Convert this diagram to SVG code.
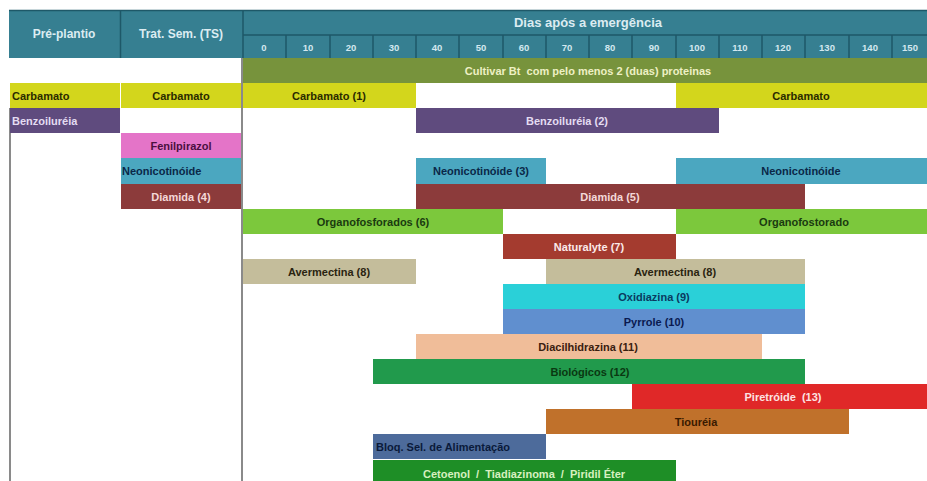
<svg xmlns="http://www.w3.org/2000/svg" width="927" height="481" viewBox="0 0 927 481">
<style>
text{font-family:"Liberation Sans",Arial,sans-serif;font-weight:bold;font-size:11px;text-anchor:middle;white-space:pre}
.hd{fill:#dcecf1;font-size:12px}
.dn{fill:#d4e8ef;font-size:9.5px}
.l{text-anchor:start}
.hl{stroke:#1e5868;stroke-width:1.5;fill:none}
.vl{stroke:#8a8a8a;stroke-width:2;fill:none}
</style>
<rect x="0" y="0" width="927" height="481" fill="#ffffff"/>
<g id="header">
<rect x="9" y="10" width="918" height="48" fill="#367f91"/>
<path class="hl" d="M9 10.5H927M120.5 10V58M243 10V58M243 35H927M286 35V58M330 35V58M373 35V58M416 35V58M459 35V58M503 35V58M546 35V58M589 35V58M632 35V58M676 35V58M719 35V58M762 35V58M805 35V58M849 35V58M892 35V58"/>
<text class="hd" x="64" y="38">Pré-plantio</text>
<text class="hd" x="181" y="38">Trat. Sem. (TS)</text>
<text class="hd" x="588" y="27" style="font-size:13px">Dias após a emergência</text>
<text class="dn" x="264" y="51">0</text>
<text class="dn" x="308" y="51">10</text>
<text class="dn" x="351" y="51">20</text>
<text class="dn" x="394" y="51">30</text>
<text class="dn" x="437" y="51">40</text>
<text class="dn" x="481" y="51">50</text>
<text class="dn" x="524" y="51">60</text>
<text class="dn" x="567" y="51">70</text>
<text class="dn" x="610" y="51">80</text>
<text class="dn" x="654" y="51">90</text>
<text class="dn" x="697" y="51">100</text>
<text class="dn" x="740" y="51">110</text>
<text class="dn" x="783" y="51">120</text>
<text class="dn" x="827" y="51">130</text>
<text class="dn" x="870" y="51">140</text>
<text class="dn" x="910" y="51">150</text>
</g>
<g id="connectors">
<path class="vl" d="M10 108V481M242 58V481"/>
</g>
<g id="cultivar"><rect x="243" y="58" width="684" height="25" fill="#77933c"/><text x="588" y="75" fill="#eef0c4">Cultivar Bt  com pelo menos 2 (duas) proteinas</text></g>
<g id="pre-carbamato"><rect x="10" y="83" width="110" height="25" fill="#d3d61c"/><text class="l" x="12" y="100" fill="#2a2a00">Carbamato</text></g>
<g id="ts-carbamato"><rect x="121" y="83" width="120" height="25" fill="#d3d61c"/><text x="181" y="100" fill="#2a2a00">Carbamato</text></g>
<g id="carbamato-1"><rect x="243" y="83" width="173" height="25" fill="#d3d61c"/><text x="329" y="100" fill="#2a2a00">Carbamato (1)</text></g>
<g id="carbamato-late"><rect x="676" y="83" width="251" height="25" fill="#d3d61c"/><text x="801" y="100" fill="#2a2a00">Carbamato</text></g>
<g id="pre-benzoilureia"><rect x="10" y="108" width="110" height="25" fill="#5f4b7e"/><text class="l" x="12" y="125" fill="#e4dcf2">Benzoiluréia</text></g>
<g id="benzoilureia-2"><rect x="416" y="108" width="303" height="25" fill="#5f4b7e"/><text x="567" y="125" fill="#e4dcf2">Benzoiluréia (2)</text></g>
<g id="ts-fenilpirazol"><rect x="121" y="133" width="120" height="25" fill="#e474c8"/><text x="181" y="150" fill="#4a1040">Fenilpirazol</text></g>
<g id="ts-neonicotinoide"><rect x="121" y="158" width="120" height="26" fill="#4ba7c0"/><text class="l" x="122" y="175" fill="#0a2848">Neonicotinóide</text></g>
<g id="neonicotinoide-3"><rect x="416" y="158" width="130" height="26" fill="#4ba7c0"/><text x="481" y="175" fill="#0a2848">Neonicotinóide (3)</text></g>
<g id="neonicotinoide-late"><rect x="676" y="158" width="251" height="26" fill="#4ba7c0"/><text x="801" y="175" fill="#0a2848">Neonicotinóide</text></g>
<g id="ts-diamida-4"><rect x="121" y="184" width="120" height="25" fill="#8c3b3b"/><text x="181" y="201" fill="#f4d8d8">Diamida (4)</text></g>
<g id="diamida-5"><rect x="416" y="184" width="389" height="25" fill="#8c3b3b"/><text x="610" y="201" fill="#f4d8d8">Diamida (5)</text></g>
<g id="organofosforados-6"><rect x="243" y="209" width="260" height="25" fill="#7cc83c"/><text x="373" y="226" fill="#1a3a10">Organofosforados (6)</text></g>
<g id="organofostorado"><rect x="676" y="209" width="251" height="25" fill="#7cc83c"/><text x="804" y="226" fill="#1a3a10">Organofostorado</text></g>
<g id="naturalyte-7"><rect x="503" y="234" width="173" height="25" fill="#a43b2f"/><text x="589" y="251" fill="#fbeaea">Naturalyte (7)</text></g>
<g id="avermectina-8a"><rect x="243" y="259" width="173" height="25" fill="#c4bd9b"/><text x="329" y="276" fill="#2a2410">Avermectina (8)</text></g>
<g id="avermectina-8b"><rect x="546" y="259" width="259" height="25" fill="#c4bd9b"/><text x="675" y="276" fill="#2a2410">Avermectina (8)</text></g>
<g id="oxidiazina-9"><rect x="503" y="284" width="302" height="25" fill="#2ad0d8"/><text x="654" y="301" fill="#0a3a60">Oxidiazina (9)</text></g>
<g id="pyrrole-10"><rect x="503" y="309" width="302" height="25" fill="#608fcf"/><text x="654" y="326" fill="#0a1a50">Pyrrole (10)</text></g>
<g id="diacilhidrazina-11"><rect x="416" y="334" width="346" height="25" fill="#f0bd99"/><text x="588" y="351" fill="#3a2010">Diacilhidrazina (11)</text></g>
<g id="biologicos-12"><rect x="373" y="359" width="432" height="25" fill="#219a4c"/><text x="590" y="376" fill="#0a3812">Biológicos (12)</text></g>
<g id="piretroide-13"><rect x="632" y="384" width="295" height="25" fill="#e02828"/><text x="783" y="401" fill="#fde2e2">Piretróide  (13)</text></g>
<g id="tioureia"><rect x="546" y="409" width="303" height="25" fill="#c0712b"/><text x="696" y="426" fill="#3a1a00">Tiouréia</text></g>
<g id="bloq"><rect x="373" y="434" width="173" height="25" fill="#4d6b9b"/><text class="l" x="376" y="451" fill="#0a1a3a">Bloq. Sel. de Alimentação</text></g>
<g id="cetoenol"><rect x="373" y="460" width="303" height="21" fill="#1e8e26"/><text x="524" y="478" fill="#d8f0c0">Cetoenol  /  Tiadiazinoma  /  Piridil Éter</text></g>
</svg>
